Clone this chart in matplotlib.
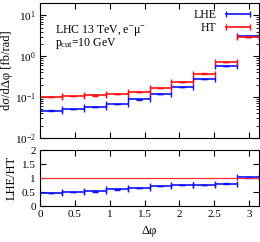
import numpy as np
import matplotlib.pyplot as plt
from matplotlib.lines import Line2D
from matplotlib.ticker import LogLocator, MultipleLocator, NullFormatter

plt.rcParams['font.family'] = ['Liberation Serif', 'DejaVu Serif']
plt.rcParams['mathtext.fontset'] = 'custom'
plt.rcParams['mathtext.rm'] = 'Liberation Serif'
plt.rcParams['mathtext.it'] = 'Liberation Serif'
plt.rcParams['font.size'] = 8

# 10 bins in delta phi, 0..pi
bin_edges = np.linspace(0, np.pi, 11)
ht_vals = [0.100, 0.105, 0.110, 0.117, 0.135, 0.170, 0.235, 0.375, 0.71, 3.0]
lhe_vals = [0.047, 0.051, 0.057, 0.069, 0.088, 0.121, 0.174, 0.282, 0.57, 3.05]
ratio_vals = [0.47, 0.49, 0.52, 0.59, 0.65, 0.71, 0.74, 0.75, 0.80, 1.02]

centers = 0.5 * (bin_edges[:-1] + bin_edges[1:])
half_w = 0.5 * np.diff(bin_edges)
blue = '#1010ff'
red = '#ff1010'

fig = plt.figure(figsize=(2.6, 2.42), dpi=100)
ax1 = fig.add_axes([40 / 260, 1 - 138 / 242, 219 / 260, 135 / 242])
ax2 = fig.add_axes([40 / 260, 1 - 206 / 242, 219 / 260, 56 / 242])

ekw = dict(fmt='none', capsize=2, elinewidth=1.2, capthick=1.0)
ax1.errorbar(centers, lhe_vals, xerr=half_w, yerr=np.array(lhe_vals) * 0.01,
             ecolor=blue, **ekw)
ax1.errorbar(centers, ht_vals, xerr=half_w, yerr=np.array(ht_vals) * 0.01,
             ecolor=red, **ekw)
ax1.set_yscale('log')
ax1.set_xlim(0, np.pi)
ax1.set_ylim(1e-2, 20)
ax1.yaxis.set_major_locator(LogLocator(base=10, numticks=10))
ax1.yaxis.set_minor_locator(LogLocator(base=10, subs=np.arange(2, 10), numticks=10))
ax1.yaxis.set_minor_formatter(NullFormatter())
ax1.xaxis.set_major_locator(MultipleLocator(0.5))
ax1.set_xticklabels([])
ax1.set_ylabel('dσ/dΔφ [fb/rad]', fontsize=9, labelpad=1)
ax1.text(0.07, 0.78, 'LHC 13 TeV, e$^{-}$μ$^{-}$', transform=ax1.transAxes, fontsize=8.5)
ax1.text(0.07, 0.68, 'p$_{\\rm cut}$=10 GeV', transform=ax1.transAxes, fontsize=8.5)
handles = [Line2D([], [], color=blue, lw=1.2, marker='|', markersize=4, markeredgewidth=1.0),
           Line2D([], [], color=red, lw=1.2, marker='|', markersize=4, markeredgewidth=1.0)]
ax1.legend(handles, ['LHE', 'HT'], loc='upper right', frameon=False, numpoints=2,
           handlelength=2.6, borderaxespad=0.2, labelspacing=0.1, markerfirst=False,
           handletextpad=0.5, fontsize=8.5, borderpad=0.3)

ax2.errorbar(centers, ratio_vals, xerr=half_w, yerr=np.array(ratio_vals) * 0.01,
             ecolor=blue, **ekw)
ax2.axhline(1.0, color='#ff3030', lw=0.9)
ax2.set_xlim(0, np.pi)
ax2.set_ylim(0, 2)
ax2.set_xticks([0, 0.5, 1, 1.5, 2, 2.5, 3])
ax2.set_xticklabels(['0', '0.5', '1', '1.5', '2', '2.5', '3'])
ax2.set_yticks([0, 0.5, 1, 1.5, 2])
ax2.set_yticklabels(['0', '0.5', '1', '1.5', '2'])
ax2.set_ylabel('LHE/HT', fontsize=9, labelpad=3)
ax2.set_xlabel('Δφ', fontsize=9, labelpad=4)

for ax in (ax1, ax2):
    ax.tick_params(which='both', direction='in', top=True, right=True, pad=3)
    ax.tick_params(which='major', length=4)
    ax.tick_params(which='minor', length=2)

fig.savefig('out.png', dpi=100)
